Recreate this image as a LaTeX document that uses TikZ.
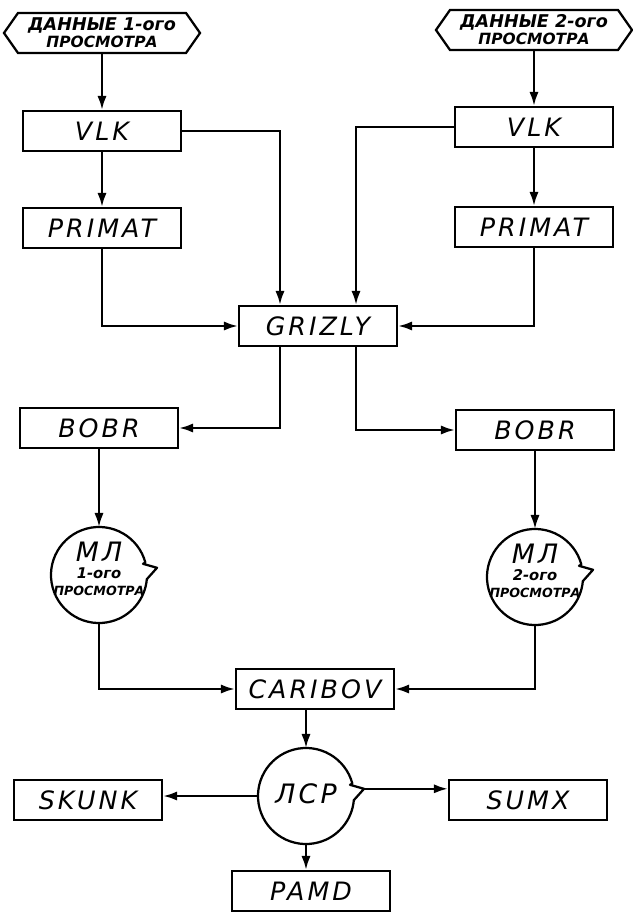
\documentclass[tikz,border=0pt]{standalone}
\usepackage{fontspec}
\setmainfont{DejaVu Sans}
\newfontfamily\handfont[LetterSpace=12]{DejaVu Sans}
\newfontfamily\smallhand{DejaVu Sans}
\usetikzlibrary{arrows.meta,shapes.symbols}

\tikzset{
  prog/.style={draw, line width=1.6pt, minimum width=3.95cm, minimum height=1cm,
    font=\handfont\itshape\fontsize{18}{20}\selectfont},
  datain/.style={draw, line width=1.6pt, signal, signal to=west and east,
    signal pointer angle=110, minimum width=4.9cm, minimum height=1cm, inner sep=1pt,
    align=center, font=\smallhand\bfseries\itshape},
  tape/.style={circle, minimum size=2.4cm, inner sep=0pt, outer sep=0pt},
  tapetext/.style={align=center, yshift=0.15cm, font=\handfont\itshape},
  link/.style={line width=1.6pt, -{Latex[length=3.5mm,width=2.3mm]}},
}

% outline of a tape store: circle with a small flap on the right
\newcommand{\tapeoutline}[1]{%
  \draw[line width=1.6pt, line join=round] (#1.15) arc[start angle=15, end angle=355, radius=1.2cm]
    -- ([shift={(1.45cm,0.18cm)}]#1.center) coordinate (#1tip)
    -- ([shift={(1.1cm,0.28cm)}]#1.center) -- cycle;
}

\begin{document}
\begin{tikzpicture}[x=0.025cm, y=-0.025cm]
  \useasboundingbox (0,0) rectangle (632,912);

  % input data of the two scans
  \node[datain] (data1) at (102,33) {{\fontsize{12.5}{13}\selectfont ДАННЫЕ 1-ого}\\
    {\fontsize{11}{12}\selectfont ПРОСМОТРА}};
  \node[datain] (data2) at (534,30) {{\fontsize{12.5}{13}\selectfont ДАННЫЕ 2-ого}\\
    {\fontsize{11}{12}\selectfont ПРОСМОТРА}};

  % programs
  \node[prog] (vlk1) at (102,131) {VLK};
  \node[prog] (vlk2) at (534,127) {VLK};
  \node[prog] (primat1) at (102,228) {PRIMAT};
  \node[prog] (primat2) at (534,227) {PRIMAT};
  \node[prog] (grizly) at (318,326) {GRIZLY};
  \node[prog] (bobr1) at (99,428) {BOBR};
  \node[prog] (bobr2) at (535,430) {BOBR};
  \node[prog] (caribov) at (315,689) {CARIBOV};
  \node[prog, minimum width=3.7cm] (skunk) at (88,800) {SKUNK};
  \node[prog] (sumx) at (528,800) {SUMX};
  \node[prog] (pamd) at (311,891) {PAMD};

  % tapes
  \node[tape, label={[tapetext]center:{\fontsize{19}{21}\selectfont МЛ}\\
    {\smallhand\bfseries\fontsize{10.5}{12}\selectfont 1-ого}\\
    {\smallhand\bfseries\fontsize{9}{11}\selectfont ПРОСМОТРА}}] (ml1) at (99,575) {};
  \node[tape, label={[tapetext]center:{\fontsize{19}{21}\selectfont МЛ}\\
    {\smallhand\bfseries\fontsize{10.5}{12}\selectfont 2-ого}\\
    {\smallhand\bfseries\fontsize{9}{11}\selectfont ПРОСМОТРА}}] (ml2) at (535,577) {};
  \node[tape, label={[tapetext, yshift=-0.1cm]center:{\fontsize{19}{21}\selectfont ЛСР}}] (lsr) at (306,796) {};
  \tapeoutline{ml1}
  \tapeoutline{ml2}
  \tapeoutline{lsr}

  % first scan
  \draw[link] (data1.south) -- (vlk1.north);
  \draw[link] (vlk1.south) -- (primat1.north);
  \draw[link] (vlk1.east) -| ([xshift=-0.95cm]grizly.north);
  \draw[link] (primat1.south) |- (grizly.west);

  % second scan
  \draw[link] (data2.south) -- (vlk2.north);
  \draw[link] (vlk2.south) -- (primat2.north);
  \draw[link] (vlk2.west) -| ([xshift=0.95cm]grizly.north);
  \draw[link] (primat2.south) |- (grizly.east);

  \draw[link] ([xshift=-0.95cm]grizly.south) |- (bobr1.east);
  \draw[link] ([xshift=0.95cm]grizly.south) |- (bobr2.west);
  \draw[link] (bobr1.south) -- (ml1.north);
  \draw[link] (bobr2.south) -- (ml2.north);
  \draw[link] (ml1.south) |- (caribov.west);
  \draw[link] (ml2.south) |- (caribov.east);

  % output
  \draw[link] (caribov.south -| lsr.north) -- (lsr.north);
  \draw[link] (lsr.west) -- (lsr.west -| skunk.east);
  \draw[link] (lsrtip) -- (lsrtip -| sumx.west);
  \draw[link] (lsr.south) -- (lsr.south |- pamd.north);
\end{tikzpicture}
\end{document}
